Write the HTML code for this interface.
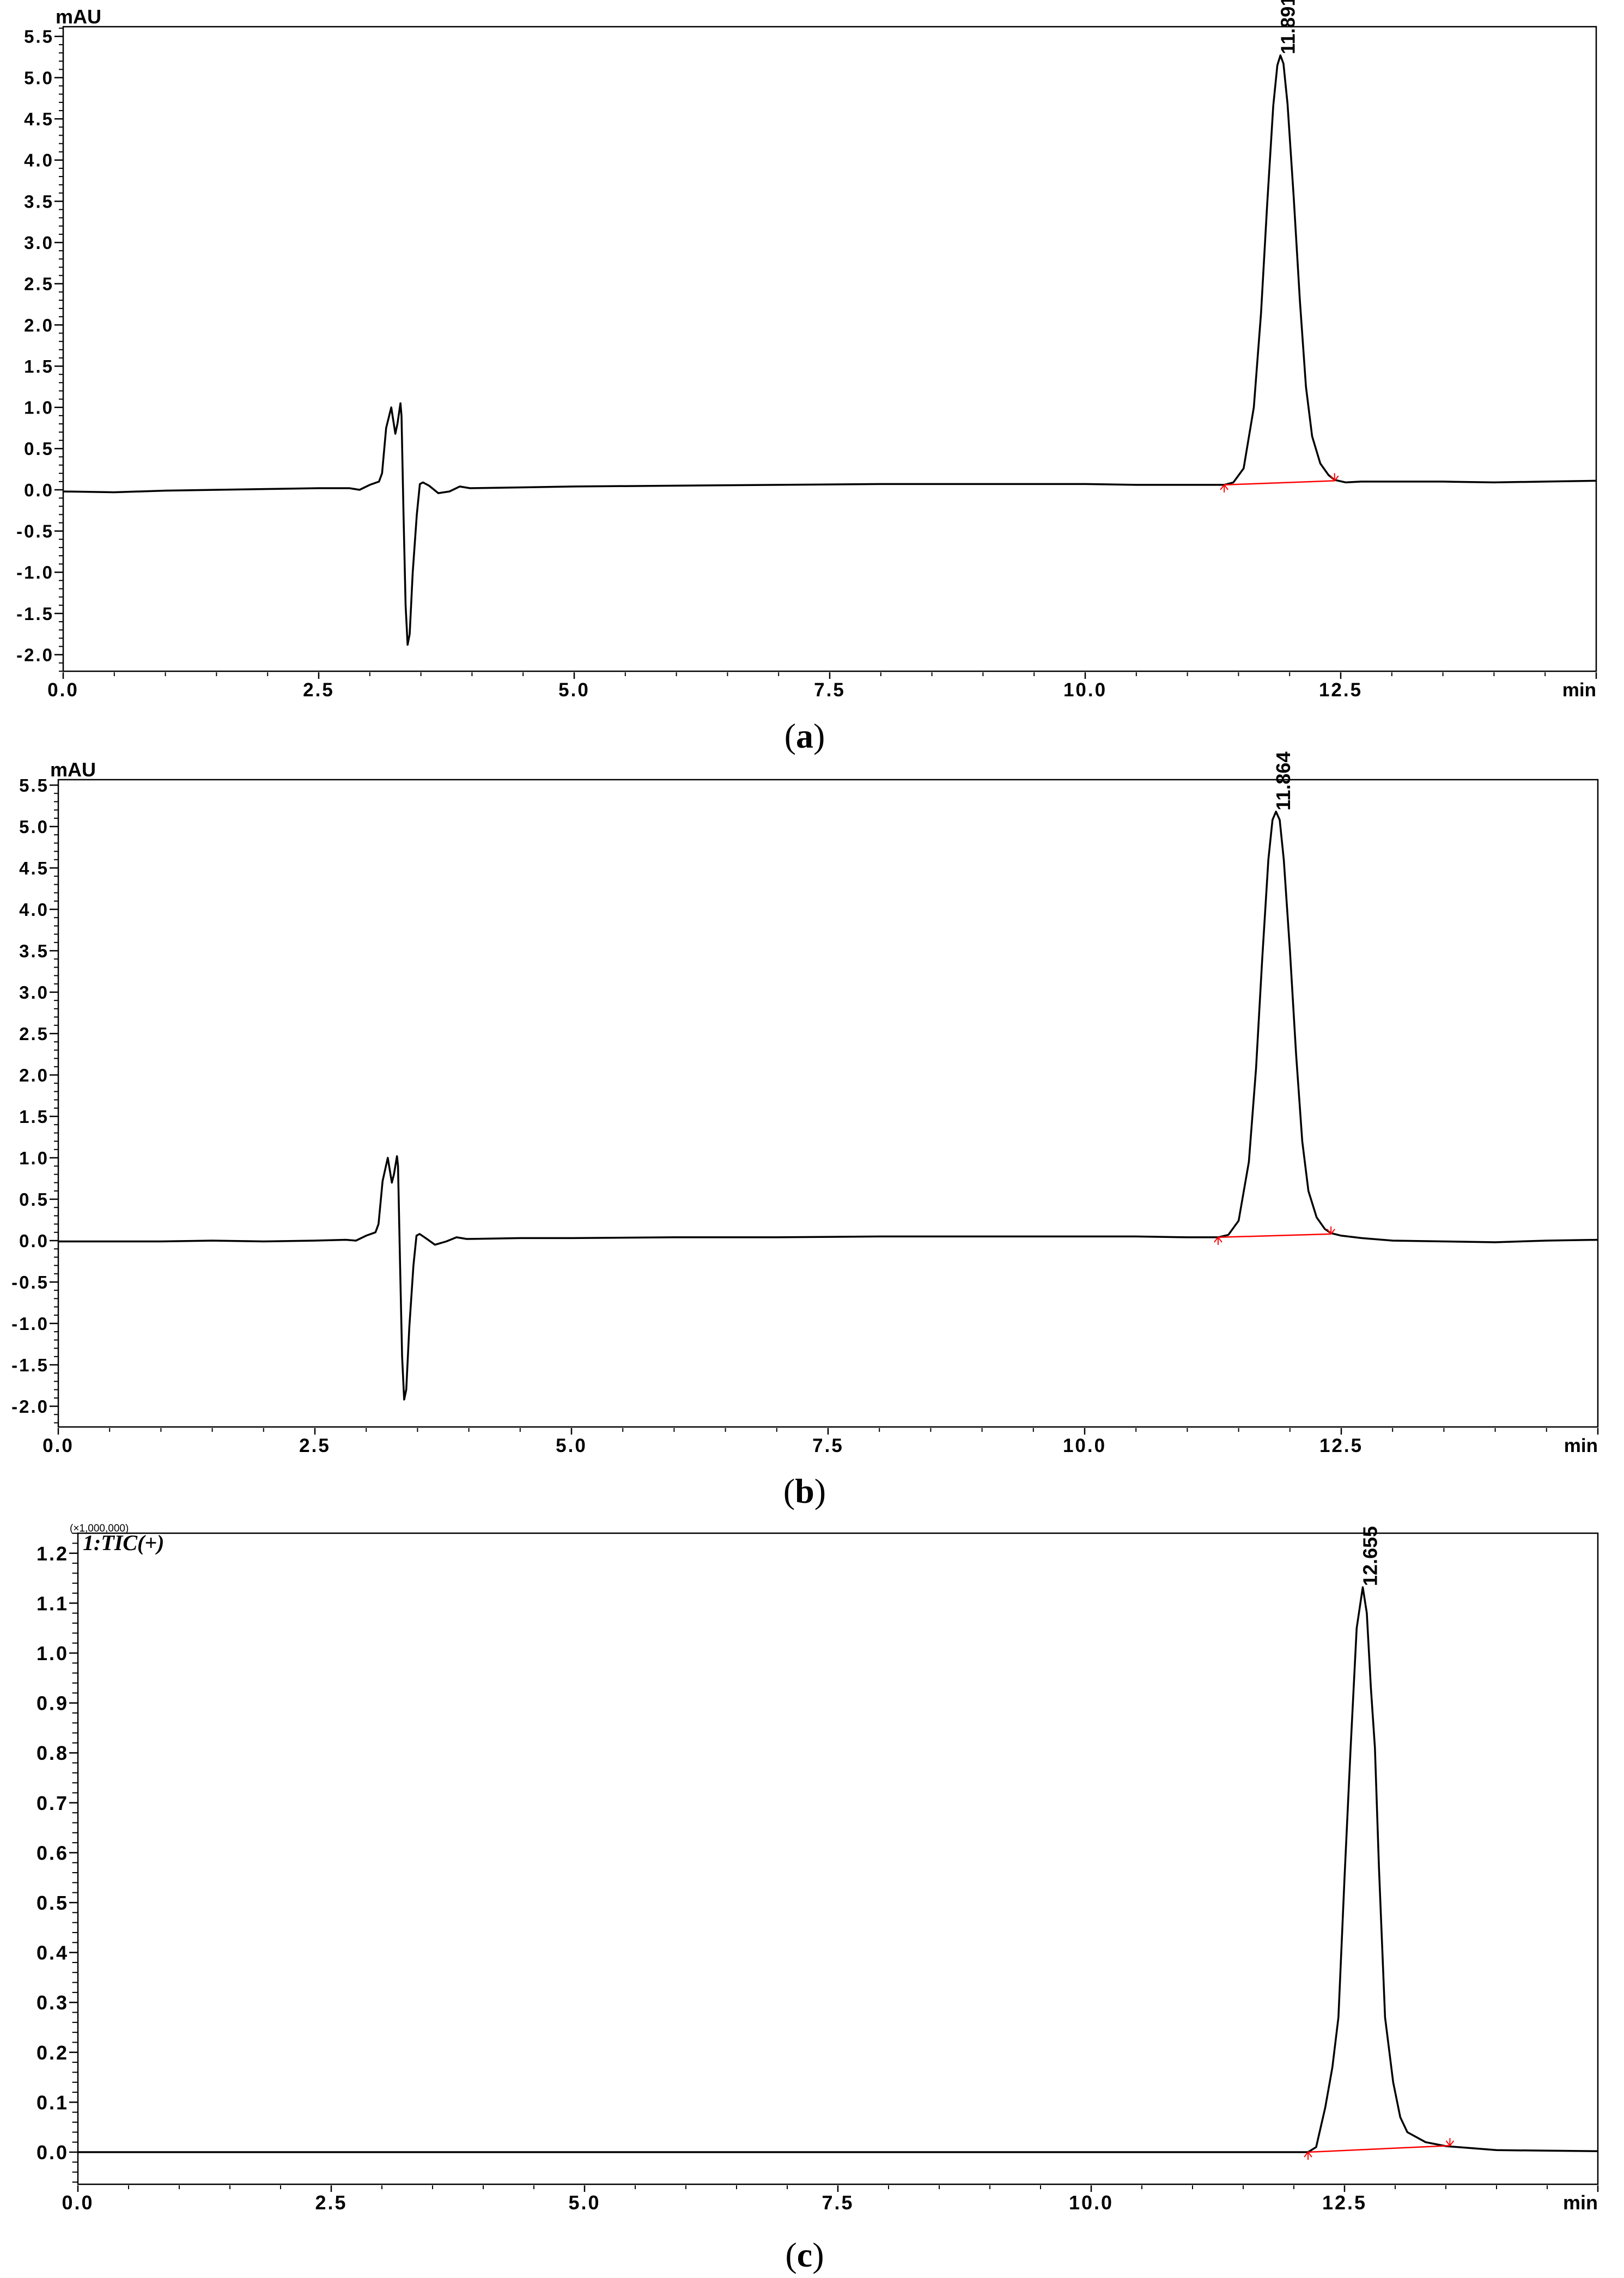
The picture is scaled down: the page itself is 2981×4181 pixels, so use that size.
<!DOCTYPE html>
<html><head><meta charset="utf-8"><style>
html,body{margin:0;padding:0;background:#fff;}
svg{display:block;}
</style></head><body>
<svg id="fig" width="2981" height="4181" viewBox="0 0 2981 4181" xmlns="http://www.w3.org/2000/svg" font-family="Liberation Sans, Arial, sans-serif"></svg>
<script>
// ---- data ----
const xTickLabels = ['0.0','2.5','5.0','7.5','10.0','12.5'];
const xTickValues = [0, 2.5, 5, 7.5, 10, 12.5];
const abYTickValues = [-2.0,-1.5,-1.0,-0.5,0.0,0.5,1.0,1.5,2.0,2.5,3.0,3.5,4.0,4.5,5.0,5.5];
const abYTickLabels = ['-2.0','-1.5','-1.0','-0.5','0.0','0.5','1.0','1.5','2.0','2.5','3.0','3.5','4.0','4.5','5.0','5.5'];
const cYTickValues = [0,0.1,0.2,0.3,0.4,0.5,0.6,0.7,0.8,0.9,1.0,1.1,1.2];
const cYTickLabels = ['0.0','0.1','0.2','0.3','0.4','0.5','0.6','0.7','0.8','0.9','1.0','1.1','1.2'];

const aTimes = [0,0.5,1,1.5,2,2.5,2.8,2.9,3.0,3.09,3.12,3.16,3.21,3.25,3.27,3.30,3.31,3.33,3.35,3.37,3.39,3.42,3.46,3.49,3.52,3.58,3.67,3.78,3.88,3.98,4.5,5,6,7,8,9,10,10.5,11,11.36,11.45,11.55,11.65,11.72,11.78,11.84,11.88,11.91,11.94,11.98,12.04,12.1,12.16,12.22,12.3,12.38,12.44,12.55,12.7,13,13.5,14,14.5,15];
const aValues = [-0.02,-0.03,-0.01,0.0,0.01,0.02,0.02,0.0,0.06,0.1,0.2,0.75,1.0,0.68,0.8,1.05,0.9,-0.3,-1.4,-1.88,-1.75,-1.0,-0.3,0.07,0.09,0.05,-0.04,-0.02,0.04,0.02,0.03,0.04,0.05,0.06,0.07,0.07,0.07,0.06,0.06,0.06,0.09,0.26,1.0,2.14,3.45,4.66,5.15,5.27,5.17,4.68,3.55,2.3,1.25,0.65,0.32,0.18,0.12,0.09,0.1,0.1,0.1,0.09,0.1,0.11];
const aPeakLabel = '11.891';
const aPeakTime = 11.91, aPeakValue = 5.27;
const aMarkTimes = [11.36, 12.44];
const aMarkValues = [0.06, 0.11];

const bTimes = [0,0.5,1,1.5,2,2.5,2.8,2.9,3.0,3.09,3.12,3.16,3.21,3.25,3.27,3.30,3.31,3.33,3.35,3.37,3.39,3.42,3.46,3.49,3.52,3.58,3.67,3.78,3.88,3.98,4.5,5,6,7,8,9,10,10.5,11,11.3,11.4,11.5,11.6,11.67,11.73,11.79,11.83,11.864,11.9,11.94,12.0,12.06,12.12,12.18,12.26,12.34,12.4,12.5,12.7,13,13.5,14,14.5,15];
const bValues = [-0.01,-0.01,-0.01,0.0,-0.01,0.0,0.01,0.0,0.06,0.1,0.2,0.72,1.0,0.7,0.8,1.02,0.9,-0.3,-1.4,-1.92,-1.8,-1.05,-0.3,0.06,0.08,0.03,-0.05,-0.01,0.04,0.02,0.03,0.03,0.04,0.04,0.05,0.05,0.05,0.05,0.04,0.04,0.07,0.24,0.95,2.08,3.4,4.6,5.08,5.18,5.08,4.6,3.5,2.25,1.2,0.6,0.28,0.14,0.09,0.06,0.03,0.0,-0.01,-0.02,0.0,0.01];
const bPeakLabel = '11.864';
const bPeakTime = 11.864, bPeakValue = 5.18;
const bMarkTimes = [11.3, 12.4];
const bMarkValues = [0.04, 0.08];

const cTimes = [0,2,4,6,8,10,11,12,12.14,12.22,12.31,12.38,12.44,12.5,12.56,12.62,12.68,12.72,12.76,12.8,12.84,12.9,12.98,13.05,13.12,13.3,13.5,14,14.5,15];
const cValues = [0.0,0.0,0.0,0.0,0.0,0.0,0.0,0.0,0.0,0.01,0.09,0.17,0.27,0.55,0.81,1.05,1.132,1.08,0.93,0.81,0.57,0.27,0.14,0.07,0.04,0.02,0.012,0.004,0.003,0.002];
const cPeakLabel = '12.655';
const cPeakTime = 12.68, cPeakValue = 1.132;
const cMarkTimes = [12.14, 13.54];
const cMarkValues = [0.0, 0.013];

// ---- drawing ----
const NS = 'http://www.w3.org/2000/svg';
const fig = document.getElementById('fig');
function mk(tag, attrs, parent){
  const e = document.createElementNS(NS, tag);
  for (const k in attrs) e.setAttribute(k, attrs[k]);
  (parent||fig).appendChild(e);
  return e;
}

function drawPanel(p){
  const g = mk('g', {});
  
  
  const xs = v => p.left + (v - 0) / 15 * (p.right - p.left);
  const ys = v => p.y0 - v * p.ppu;
  const fr = mk('rect', {x:p.left, y:p.top, width:p.right-p.left, height:p.bottom-p.top, fill:'none', stroke:'#000', 'stroke-width':2.5}, g);
  
  
  for (let i = 0; i <= 30; i++){
    const t = i * 0.5;
    const major = (i % 5 === 0) || i === 30;
    const tk = mk('line', {x1:xs(t), x2:xs(t), y1:p.bottom+2, y2:p.bottom+(major?14:9), stroke:'#000', 'stroke-width':major?2.5:2}, g);
    
    
  }
  xTickValues.forEach((v, i) => {
    const tx = mk('text', {x:xs(v), y:p.bottom+46, 'text-anchor':'middle', 'font-size':p.xfs, 'font-weight':'bold', 'letter-spacing':'3'}, g);
    tx.textContent = xTickLabels[i];
    
    
  });
  const mn = mk('text', {x:p.right, y:p.bottom+46, 'text-anchor':'end', 'font-size':p.xfs, 'font-weight':'bold'}, g);
  mn.textContent = 'min';
  
  
  const nMinor = Math.round((p.yTop - p.yBot) / p.minorStep);
  for (let i = 0; i <= nMinor; i++){
    const v = p.yBot + i * p.minorStep;
    const y = ys(v);
    if (y < p.top - 1 || y > p.bottom + 1) continue;
    const tk = mk('line', {x1:p.left-8*p.tickScale, x2:p.left, y1:y, y2:y, stroke:'#000', 'stroke-width':2}, g);
    
    
  }
  p.yTicks.forEach((v, i) => {
    const y = ys(v);
    const tk = mk('line', {x1:p.left-16, x2:p.left, y1:y, y2:y, stroke:'#000', 'stroke-width':2.5}, g);
    
    
    const tx = mk('text', {x:p.left-17, y:y+p.yfs*0.36, 'text-anchor':'end', 'font-size':p.yfs, 'font-weight':'bold', 'letter-spacing':'3'}, g);
    tx.textContent = p.yLabels[i];
    
    
  });
  let d = '';
  p.times.forEach((t, i) => { d += (i ? 'L' : 'M') + xs(t).toFixed(1) + ',' + ys(p.values[i]).toFixed(1); });
  const ln = mk('path', {d:d, fill:'none', stroke:'#000', 'stroke-width':3.5, 'stroke-linejoin':'round'}, g);
  
  
  const bl = mk('line', {x1:xs(p.markT[0]), y1:ys(p.markV[0]), x2:xs(p.markT[1]), y2:ys(p.markV[1]), stroke:'#f00', 'stroke-width':2.5}, g);
  
  
  p.markT.forEach((t, i) => {
    const x = xs(t), y = ys(p.markV[i]);
    const dir = i === 0 ? 1 : -1;
    const mkr = mk('path', {d:`M${x},${y}L${x},${y+dir*14}M${x-7},${y+dir*9}L${x},${y}L${x+7},${y+dir*9}`, fill:'none', stroke:'#f00', 'stroke-width':2}, g);
    
    
  });
  const px = xs(p.peakT) + 26, py = ys(p.peakV) - 2;
  const pl = mk('text', {x:px, y:py, transform:`rotate(-90 ${px} ${py})`, 'font-size':36, 'font-weight':'bold'}, g);
  pl.textContent = p.peakLabel;
  
  
  const cap = mk('text', {x:1477, y:p.capY, 'text-anchor':'middle', 'font-size':64, style:'font-family:"Liberation Serif",serif'}, g);
  cap.innerHTML = '(<tspan font-weight="bold">' + p.cap + '</tspan>)';
  
  
  return g;
}

const ga = drawPanel({name:'panel-a', left:116, right:2930, top:49, bottom:1232, y0:899, ppu:151.3, yBot:-2.2, yTop:5.6, minorStep:0.1, tickScale:1,
  yTicks:abYTickValues, yLabels:abYTickLabels, xfs:35, yfs:33, times:aTimes, values:aValues,
  markT:aMarkTimes, markV:aMarkValues, peakT:aPeakTime, peakV:aPeakValue, peakLabel:aPeakLabel, cap:'a', capY:1372});
const ua = mk('text', {x:102, y:43, 'font-size':36, 'font-weight':'bold'});
ua.textContent = 'mAU';



const gb = drawPanel({name:'panel-b', left:107, right:2933, top:1431, bottom:2619, y0:2277, ppu:152, yBot:-2.2, yTop:5.6, minorStep:0.1, tickScale:1,
  yTicks:abYTickValues, yLabels:abYTickLabels, xfs:35, yfs:33, times:bTimes, values:bValues,
  markT:bMarkTimes, markV:bMarkValues, peakT:bPeakTime, peakV:bPeakValue, peakLabel:bPeakLabel, cap:'b', capY:2758});
const ub = mk('text', {x:92, y:1425, 'font-size':36, 'font-weight':'bold'});
ub.textContent = 'mAU';



const gc = drawPanel({name:'panel-c', left:143, right:2933, top:2814, bottom:4009, y0:3950, ppu:916, yBot:-0.06, yTop:1.24, minorStep:0.02, tickScale:1.3,
  yTicks:cYTickValues, yLabels:cYTickLabels, xfs:36, yfs:36, times:cTimes, values:cValues,
  markT:cMarkTimes, markV:cMarkValues, peakT:cPeakTime, peakV:cPeakValue, peakLabel:cPeakLabel, cap:'c', capY:4160});
const sc = mk('text', {x:128, y:2811, 'font-size':19});
sc.textContent = '(×1,000,000)';


const tic = mk('text', {x:152, y:2845, 'font-size':40, 'font-weight':'bold', 'font-style':'italic', style:'font-family:"Liberation Serif",serif'});
tic.textContent = '1:TIC(+)';


</script>
</body></html>
